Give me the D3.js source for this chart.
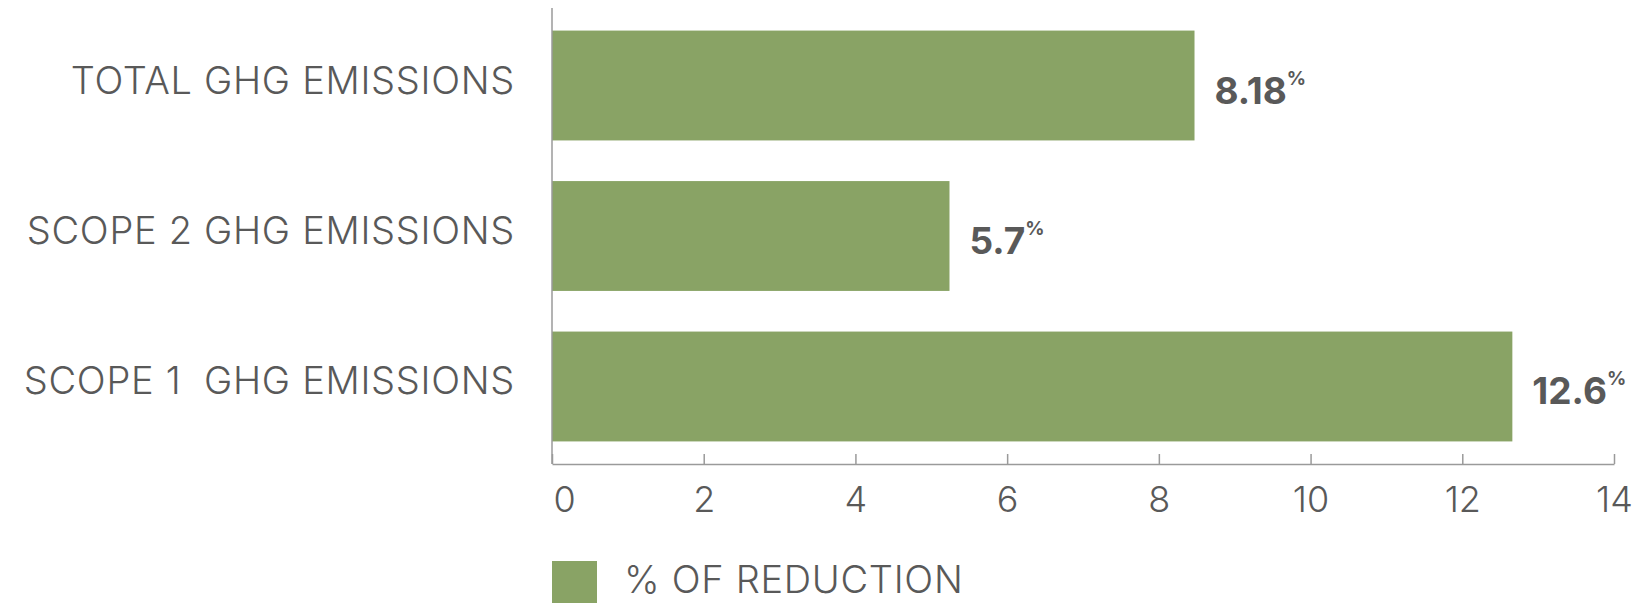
<!DOCTYPE html>
<html><head><meta charset="utf-8">
<script src="https://cdn.jsdelivr.net/npm/d3@7"></script>
<style>
body{margin:0;background:#fff;}
text{font-family:Inter, "Open Sans", sans-serif;}
text.cat{white-space:pre;}
</style></head>
<body><svg id="c" width="1638" height="603"></svg>
<script>
const categories = ["TOTAL GHG EMISSIONS", "SCOPE 2 GHG EMISSIONS", "SCOPE 1  GHG EMISSIONS"];
const values = [8.47, 5.24, 12.66];
const valueLabels = ["8.18", "5.7", "12.6"];
const tickValues = [0, 2, 4, 6, 8, 10, 12, 14];
const seriesName = "% OF REDUCTION";

const barColor = "#89a365", textColor = "#595959", axisColor = "#9a9a9a";
const svg = d3.select("#c");
const x = d3.scaleLinear().domain([0, 14]).range([552, 1614]);
const y = d3.scaleBand().domain(categories).range([8, 464]).paddingInner(0.27).paddingOuter(0.15);

// bars
svg.selectAll("rect.bar").data(categories).join("rect").attr("class","bar")
  .attr("x", x(0)).attr("y", d => y(d))
  .attr("width", (d,i) => x(values[i]) - x(0)).attr("height", y.bandwidth())
  .attr("fill", barColor);

// left axis line
svg.append("line").attr("x1", x(0)).attr("x2", x(0)).attr("y1", 8).attr("y2", 464)
  .attr("stroke", axisColor).attr("stroke-width", 1.5);

// bottom axis
const ax = svg.append("g").attr("transform", "translate(0,464)")
  .call(d3.axisBottom(x).tickValues(tickValues).tickSize(-10).tickSizeOuter(0).tickPadding(23));
ax.select(".domain").attr("stroke", axisColor).attr("stroke-width", 1.5);
ax.selectAll(".tick line").attr("stroke", axisColor).attr("stroke-width", 1.5);
ax.selectAll(".tick text").attr("fill", textColor).attr("font-size", 36).attr("font-weight", 300)
  .attr("font-family", "Inter, sans-serif").attr("dy", "0.7em")
  .attr("dx", d => d === 0 ? 12 : 0);

// category labels
svg.selectAll("text.cat").data(categories).join("text").attr("class","cat")
  .attr("x", 515).attr("y", d => y(d) + y.bandwidth()/2 - 6)
  .attr("text-anchor", "end").attr("dominant-baseline", "central")
  .attr("font-size", 38).attr("font-weight", 300).attr("letter-spacing", 0.7).attr("fill", textColor)
  .text(d => d);

// value labels
const vl = svg.selectAll("text.val").data(categories).join("text").attr("class","val")
  .attr("x", (d,i) => x(values[i]) + 20).attr("y", d => y(d) + y.bandwidth()/2 + 4)
  .attr("dominant-baseline", "central")
  .attr("font-size", 37).attr("font-weight", 700).attr("fill", textColor);
vl.append("tspan").text((d,i) => valueLabels[i]);
vl.append("tspan").attr("font-size", 19).attr("font-weight", 700).attr("dy", -12).text("%");

// legend
svg.append("rect").attr("x", x(0)).attr("y", 561).attr("width", 45).attr("height", 42).attr("fill", barColor);
svg.append("text").attr("x", 624).attr("y", 579).attr("dominant-baseline", "central")
  .attr("font-size", 38).attr("font-weight", 300).attr("letter-spacing", 0.7).attr("fill", textColor).text(seriesName);
</script></body></html>
